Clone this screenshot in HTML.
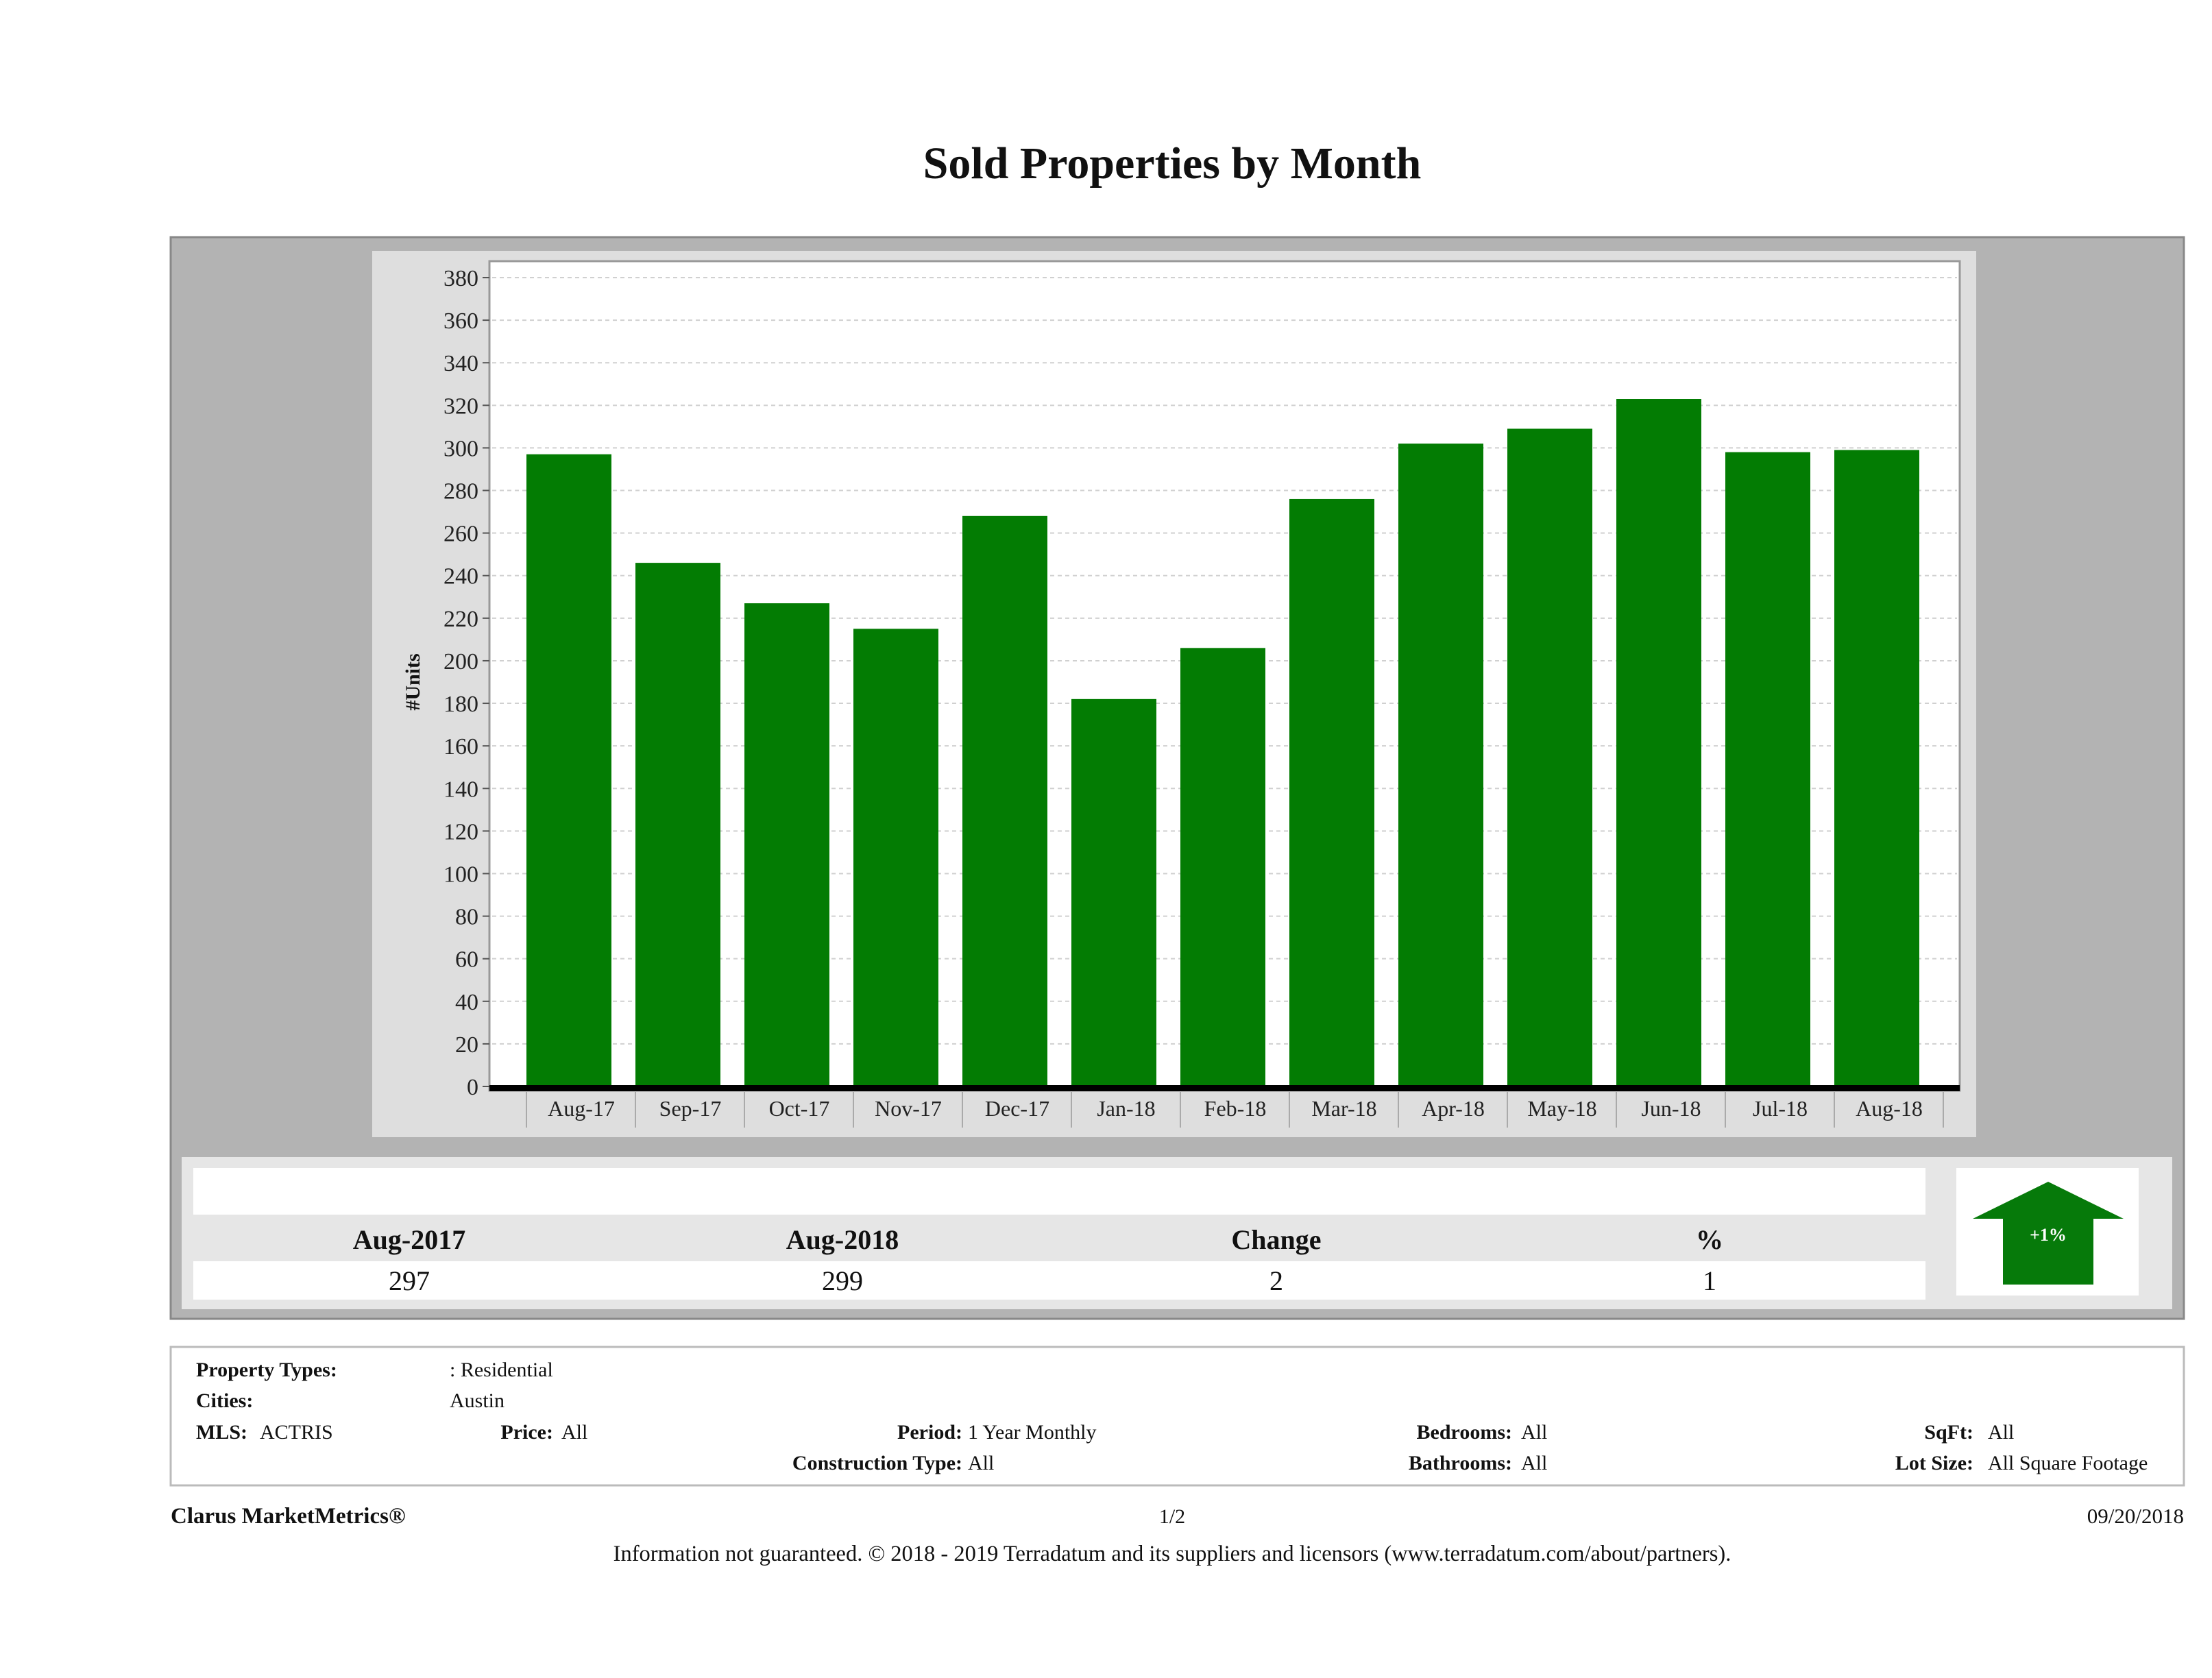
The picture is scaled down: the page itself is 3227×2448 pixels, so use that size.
<!DOCTYPE html>
<html><head><meta charset="utf-8"><style>
html,body{margin:0;padding:0;background:#fff}
svg{display:block}
text{font-family:"Liberation Serif","DejaVu Serif",serif}
</style></head><body>
<svg id="root" width="3227" height="2448" viewBox="0 0 3227 2448" xmlns="http://www.w3.org/2000/svg">
<text x="1710" y="260" font-size="66" font-weight="bold" text-anchor="middle" fill="#111">Sold Properties by Month</text>
<rect x="249" y="346" width="2937" height="1578" fill="#b3b3b3" stroke="#888" stroke-width="3"/>
<rect x="543" y="366" width="2340" height="1293" fill="#dedede"/>
<rect x="714" y="381" width="2145" height="1210" fill="#fff" stroke="#999" stroke-width="3"/>
<g id="grid"></g>
<g id="bars"></g>
<g id="yaxis"></g>
<g id="xaxis"></g>
<text transform="translate(612,995) rotate(-90)" font-size="30" font-weight="bold" text-anchor="middle" fill="#111">#Units</text>

<rect x="265" y="1688" width="2904" height="222" fill="#e6e6e6"/>
<rect x="282" y="1704" width="2527" height="68" fill="#fff"/>
<rect x="282" y="1840" width="2527" height="56" fill="#fff"/>
<g font-size="40" text-anchor="middle" fill="#111">
<text x="597" y="1822" font-weight="bold">Aug-2017</text>
<text x="1229" y="1822" font-weight="bold">Aug-2018</text>
<text x="1862" y="1822" font-weight="bold">Change</text>
<text x="2494" y="1822" font-weight="bold">%</text>
<text x="597" y="1882">297</text>
<text x="1229" y="1882">299</text>
<text x="1862" y="1882">2</text>
<text x="2494" y="1882">1</text>
</g>
<rect x="2854" y="1704" width="266" height="186" fill="#fff"/>
<polygon points="2988,1724 3098,1778 3054,1778 3054,1874 2922,1874 2922,1778 2878,1778" fill="#067a0a"/>
<text x="2988" y="1810" font-size="26" font-weight="bold" fill="#fff" text-anchor="middle">+1%</text>

<rect x="249" y="1965" width="2937" height="202" fill="#fff" stroke="#bbb" stroke-width="3"/>
<g font-size="30" fill="#111">
<text x="286" y="2008" font-weight="bold">Property Types:</text>
<text x="656" y="2008">: Residential</text>
<text x="286" y="2053" font-weight="bold">Cities:</text>
<text x="656" y="2053">Austin</text>
<text x="286" y="2099" font-weight="bold">MLS:</text>
<text x="379" y="2099">ACTRIS</text>
<text x="807" y="2099" font-weight="bold" text-anchor="end">Price:</text>
<text x="819" y="2099">All</text>
<text x="1404" y="2099" font-weight="bold" text-anchor="end">Period:</text>
<text x="1412" y="2099">1 Year Monthly</text>
<text x="2206" y="2099" font-weight="bold" text-anchor="end">Bedrooms:</text>
<text x="2219" y="2099">All</text>
<text x="2879" y="2099" font-weight="bold" text-anchor="end">SqFt:</text>
<text x="2900" y="2099">All</text>
<text x="1404" y="2144" font-weight="bold" text-anchor="end">Construction Type:</text>
<text x="1412" y="2144">All</text>
<text x="2206" y="2144" font-weight="bold" text-anchor="end">Bathrooms:</text>
<text x="2219" y="2144">All</text>
<text x="2879" y="2144" font-weight="bold" text-anchor="end">Lot Size:</text>
<text x="2900" y="2144">All Square Footage</text>
</g>
<text x="249" y="2222" font-size="33" font-weight="bold" fill="#111">Clarus MarketMetrics®</text>
<text x="1710" y="2222" font-size="30" text-anchor="middle" fill="#111">1/2</text>
<text x="3186" y="2222" font-size="31" text-anchor="end" fill="#111">09/20/2018</text>
<text x="1710" y="2277" font-size="32.5" text-anchor="middle" fill="#111">Information not guaranteed. © 2018 - 2019 Terradatum and its suppliers and licensors (www.terradatum.com/about/partners).</text>
</svg>
<script>
const categories = ["Aug-17","Sep-17","Oct-17","Nov-17","Dec-17","Jan-18","Feb-18","Mar-18","Apr-18","May-18","Jun-18","Jul-18","Aug-18"];
const soldUnits = [297,246,227,215,268,182,206,276,302,309,323,298,299];
const yTicks = [0,20,40,60,80,100,120,140,160,180,200,220,240,260,280,300,320,340,360,380];

const NS = "http://www.w3.org/2000/svg";
const plotL = 714, plotR = 2859, y0 = 1585, y380 = 405;
const firstCenter = 830, step = 159.0, barW = 124;
function yScale(v){ return y0 - (v/380)*(y0-y380); }
function xScale(i){ return firstCenter + i*step; }
function mk(tag, attrs, parent){
  const e = document.createElementNS(NS, tag);
  for (const k in attrs) e.setAttribute(k, attrs[k]);
  parent.appendChild(e);
  return e;
}
const grid = document.getElementById('grid');
const yaxis = document.getElementById('yaxis');
yTicks.forEach(t => {
  const y = yScale(t);
  if (t > 0) {
    const g = mk('line', {x1: plotL+4, x2: plotR-4, y1: y, y2: y, stroke: '#d0d0d0', 'stroke-width': 2, 'stroke-dasharray': '6 5'}, grid);
    
    
  }
  const tk = mk('line', {x1: plotL-10, x2: plotL, y1: y, y2: y, stroke: '#555', 'stroke-width': 2}, yaxis);
  
  
  const tx = mk('text', {x: plotL-16, y: y+12, 'font-size': 34, 'text-anchor': 'end', fill: '#222'}, yaxis);
  tx.textContent = t;
  
  
});
const bars = document.getElementById('bars');
soldUnits.forEach((v, i) => {
  const y = yScale(v);
  const r = mk('rect', {x: xScale(i)-barW/2, y: y, width: barW, height: y0 - y, fill: '#037c03'}, bars);
  
  
});
const xaxis = document.getElementById('xaxis');
const base = mk('rect', {x: plotL, y: y0-2, width: plotR-plotL, height: 9, fill: '#000'}, xaxis);


categories.forEach((c, i) => {
  const sx = xScale(i) - barW/2;
  const s = mk('line', {x1: sx, x2: sx, y1: y0+8, y2: y0+60, stroke: '#aaa', 'stroke-width': 2}, xaxis);
  
  
  const t = mk('text', {x: xScale(i) + 18, y: y0+43, 'font-size': 32, 'text-anchor': 'middle', fill: '#222'}, xaxis);
  t.textContent = c;
  
  
});
const lx = xScale(categories.length) - barW/2;
const ls = mk('line', {x1: lx, x2: lx, y1: y0+8, y2: y0+60, stroke: '#aaa', 'stroke-width': 2}, xaxis);


</script>
</body></html>
